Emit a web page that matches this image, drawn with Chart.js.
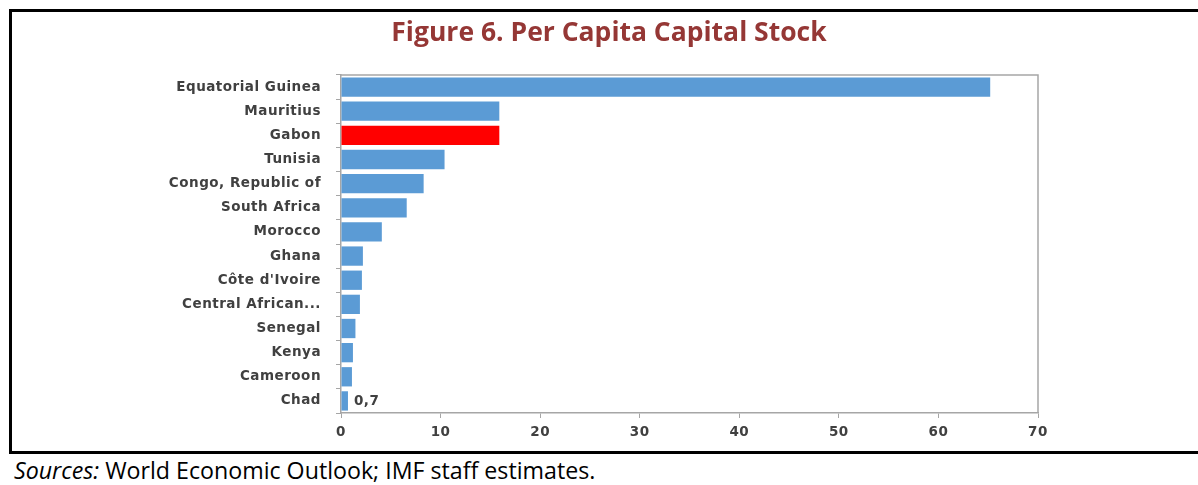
<!DOCTYPE html>
<html>
<head>
<meta charset="utf-8">
<script src="https://cdn.jsdelivr.net/npm/chart.js@4/dist/chart.umd.min.js"></script>
<style>
    html, body { margin: 0; padding: 0; background: #ffffff; }
    #frame {
        position: absolute;
        left: 9px; top: 9px;
        width: 1189px; height: 445px;
        border-top: 3px solid #000;
        border-left: 3px solid #000;
        border-bottom: 3px solid #000;
        box-sizing: border-box;
    }
    #box { position: absolute; left: 0; top: 0; width: 1186px; height: 439px; }
    #title {
        position: absolute;
        left: 0; top: 13px;
        width: 1218px;
        text-align: center;
        font-family: "Open Sans", sans-serif;
        font-weight: bold;
        font-size: 26.5px;
        color: #953735;
        white-space: nowrap;
    }
    #sources {
        position: absolute;
        left: 14px; top: 454px;
        font-family: "Open Sans", sans-serif;
        font-size: 23.2px;
        color: #000;
        white-space: nowrap;
    }
</style>
</head>
<body>
<div id="frame">
    <div id="box"><canvas id="capitalChart"></canvas></div>
</div>
<div id="title">Figure 6. Per Capita Capital Stock</div>
<div id="sources"><i>Sources:</i> World Economic Outlook; IMF staff estimates.</div>

<script>
const countries = [
    'Equatorial Guinea', 'Mauritius', 'Gabon', 'Tunisia', 'Congo, Republic of',
    'South Africa', 'Morocco', 'Ghana', "Côte d'Ivoire", 'Central African Republic',
    'Senegal', 'Kenya', 'Cameroon', 'Chad'
];
const capitalStock = [65.2, 15.9, 15.9, 10.4, 8.3, 6.6, 4.1, 2.2, 2.1, 1.9, 1.45, 1.2, 1.1, 0.7];
const highlighted = ['Gabon'];
const xTicks = [0, 10, 20, 30, 40, 50, 60, 70];
const labelledValues = ['Chad'];

const BLUE = '#5b9bd5';
const RED = '#ff0000';
const AXIS_GREY = '#a6a6a6';
const LABEL_COLOR = '#404040';
const LABEL_FONT = { family: '"DejaVu Sans", sans-serif', size: 13.5, weight: 'bold' };

// the excel labels are a bit more spread out than DejaVu
const spacing = {
    id: 'spacing',
    beforeDraw(chart) { chart.ctx.letterSpacing = '0.5px'; }
};

// frame on top + right of plot, like the original excel chart
const plotBorder = {
    id: 'plotBorder',
    afterDraw(chart) {
        const { ctx, chartArea } = chart;
        ctx.save();
        ctx.strokeStyle = AXIS_GREY;
        ctx.lineWidth = 1.5;
        ctx.beginPath();
        ctx.moveTo(chartArea.left, chartArea.top);
        ctx.lineTo(chartArea.right, chartArea.top);
        ctx.lineTo(chartArea.right, chartArea.bottom);
        ctx.stroke();
        ctx.restore();
    }
};

// value label next to chosen bars ("0,7")
const valueLabels = {
    id: 'valueLabels',
    afterDatasetsDraw(chart) {
        const { ctx } = chart;
        const meta = chart.getDatasetMeta(0);
        ctx.save();
        ctx.font = 'bold 13.5px "DejaVu Sans", sans-serif';
        ctx.fillStyle = LABEL_COLOR;
        ctx.textBaseline = 'middle';
        labelledValues.forEach(name => {
            const i = countries.indexOf(name);
            const bar = meta.data[i];
            ctx.fillText(String(capitalStock[i]).replace('.', ','), bar.x + 6, bar.y + 1);
        });
        ctx.restore();
    }
};

new Chart(document.getElementById('capitalChart'), {
    type: 'bar',
    data: {
        labels: countries,
        datasets: [{
            data: capitalStock,
            backgroundColor: countries.map(c => highlighted.includes(c) ? RED : BLUE),
            borderWidth: 0,
            barPercentage: 0.8,
            categoryPercentage: 1.0
        }]
    },
    options: {
        indexAxis: 'y',
        responsive: true,
        maintainAspectRatio: false,
        animation: false,
        layout: { padding: { left: 0, right: 160, top: 63, bottom: 8 } },
        plugins: {
            legend: { display: false },
            tooltip: { enabled: false },
            title: { display: false }
        },
        scales: {
            x: {
                min: 0,
                max: 70,
                afterBuildTicks: scale => { scale.ticks = xTicks.map(v => ({ value: v })); },
                afterFit: scale => { scale.height = 30; },
                ticks: {
                    color: LABEL_COLOR,
                    font: LABEL_FONT,
                    padding: 6,
                    maxRotation: 0
                },
                grid: { drawOnChartArea: false, drawTicks: true, tickLength: 5, color: AXIS_GREY },
                border: { display: true, color: AXIS_GREY, width: 1.5 }
            },
            y: {
                afterFit: scale => { scale.width = 329; },
                ticks: {
                    color: LABEL_COLOR,
                    font: LABEL_FONT,
                    padding: 15,
                    autoSkip: false,
                    callback: function (value) {
                        const name = this.getLabelForValue(value);
                        return name.length > 18 ? name.slice(0, 15) + '...' : name;
                    }
                },
                grid: { drawOnChartArea: false, drawTicks: true, tickLength: 5, color: AXIS_GREY, offset: true },
                border: { display: true, color: AXIS_GREY, width: 1.5 }
            }
        }
    },
    plugins: [spacing, plotBorder, valueLabels]
});
</script>
</body>
</html>
